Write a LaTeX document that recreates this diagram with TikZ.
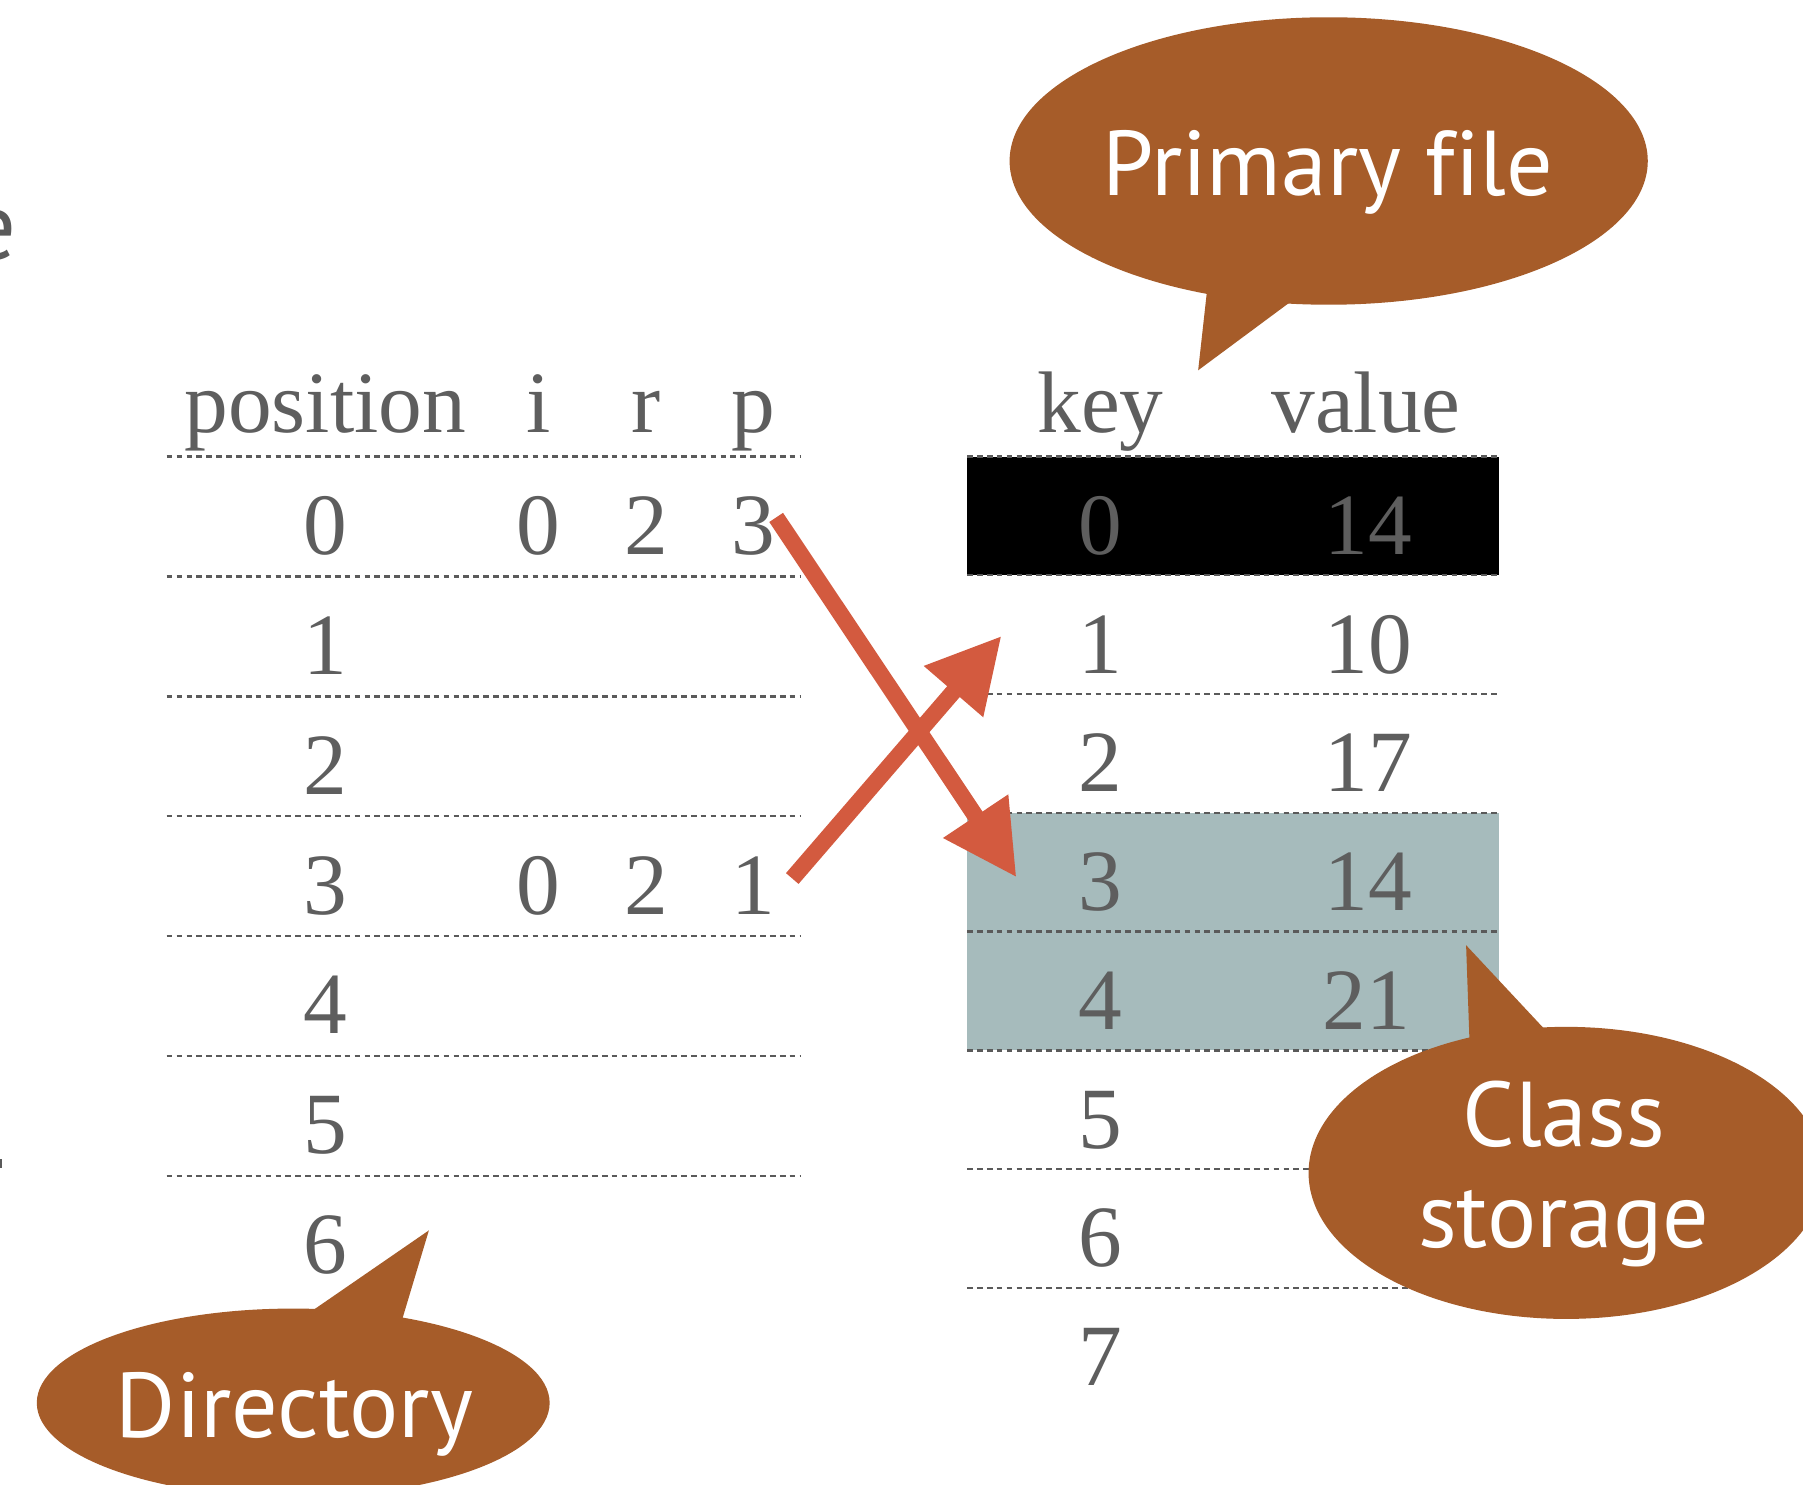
\documentclass[tikz,border=0pt]{standalone}
\usepackage{fontspec}
\setmainfont{Liberation Serif}
\newfontfamily\calloutfont[Ligatures=NoCommon]{PT Sans}
\usetikzlibrary{arrows.meta,shapes.geometric}
\definecolor{txtgray}{HTML}{5E5E5E}
\definecolor{linegray}{HTML}{5A5A5A}
\definecolor{arrowred}{HTML}{D35A3F}
\definecolor{calloutbrown}{HTML}{A65C29}
\definecolor{classteal}{HTML}{A6BBBC}
\begin{document}
\begin{tikzpicture}[x=0.5pt,y=-0.5pt,
  tabtext/.style={text=txtgray, font=\fontsize{38}{46}\selectfont, anchor=base, inner sep=0pt},
  rowline/.style={draw=linegray, line width=1pt, dash pattern=on 2.5pt off 1.8pt},
  arr/.style={draw=arrowred, line width=7.2pt, -{Triangle[length=32pt,width=32pt]}},
  bubble/.style={fill=calloutbrown},
  bubbletext/.style={text=white, font=\calloutfont\fontsize{40}{44}\selectfont, anchor=base, inner sep=0pt},
  edgetext/.style={text=linegray, font=\calloutfont\fontsize{42}{46}\selectfont, anchor=base east, inner sep=0pt}]
\useasboundingbox (0,0) rectangle (1568,1291);
\clip (0,0) rectangle (1568,1291);
\fill[white] (0,0) rectangle (1568,1291);

% cut-off text at the left edge
\node[edgetext] (edgee) at (15,226) {e};
\fill[linegray] (0,1008) rectangle (1.5,1016);

% highlighted rows of the primary file
\fill[classteal] (841,{397+103.3*3}) rectangle (1304,{397+103.3*5});
\fill[black] (841,397) rectangle (1304,{397+103.3});

% dotted row lines
\foreach \k in {0,...,6} \draw[rowline] (145,{397+104.3*\k}) -- (697,{397+104.3*\k});
\foreach \k in {0,...,7} \draw[rowline] (841,{397+103.3*\k}) -- (1304,{397+103.3*\k});

% directory header
\node[tabtext] (hpos) at (283,376) {position};
\node[tabtext] (hi) at (468,376) {i};
\node[tabtext] (hr) at (562,376) {r};
\node[tabtext] (hp) at (655,376) {p};
% directory rows
\foreach \k in {0,...,6} \node[tabtext] (L\k) at (283,{482+104.3*\k}) {\k};
\node[tabtext] (I0) at (468,482) {0};
\node[tabtext] (R0) at (562,482) {2};
\node[tabtext] (P0) at (655,482) {3};
\node[tabtext] (I3) at (468,{482+104.3*3}) {0};
\node[tabtext] (R3) at (562,{482+104.3*3}) {2};
\node[tabtext] (P3) at (655,{482+104.3*3}) {1};

% primary file header
\node[tabtext] (hkey) at (957,376) {key};
\node[tabtext] (hval) at (1188,376) {value};
\foreach \k in {0,...,7} \node[tabtext] (K\k) at (957,{482+103.3*\k}) {\k};
\node[tabtext] (V0) at (1190,482) {14};
\node[tabtext] (V1) at (1190,{482+103.3}) {10};
\node[tabtext] (V2) at (1190,{482+103.3*2}) {17};
\node[tabtext] (V3) at (1190,{482+103.3*3}) {14};
\node[tabtext] (V4) at (1188,{482+103.3*4}) {21};

% arrows
\coordinate (a1s) at (675,450);
\coordinate (a1e) at (884,763);
\coordinate (a2s) at (689,764);
\coordinate (a2e) at (871,553);
\draw[arr] (a1s) -- (a1e);
\draw[arr] (a2s) -- (a2e);

% callout: Primary file
\fill[bubble] (1155.5,140) ellipse [x radius=277.5, y radius=125];
\fill[bubble] (1050,250) -- (1042,322) -- (1127,259) -- cycle;
\node[bubbletext] (pf) at (1155,170) {Primary file};

% callout: Directory
\fill[bubble] (255,1220) ellipse [x radius=223, y radius=82];
\fill[bubble] (267,1143) -- (373,1070) -- (349,1150) -- cycle;
\node[bubbletext] (dir) at (256,1250) {Directory};

% callout: Class storage
\fill[bubble] (1362,1020) ellipse [x radius=224, y radius=127];
\fill[bubble] (1278,907) -- (1275,822) -- (1346,898) -- cycle;
\node[bubbletext] (cls1) at (1360,997) {Class};
\node[bubbletext] (cls2) at (1360,1085) {storage};
\end{tikzpicture}
\end{document}
